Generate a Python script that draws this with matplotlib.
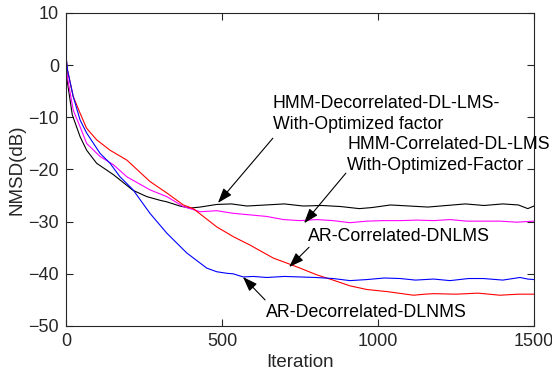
"""NMSD learning curves for the HMM / AR DL-LMS variants."""

import matplotlib

matplotlib.use("Agg")
import matplotlib.pyplot as plt

# values (iteration, NMSD in dB)
black_x = [0, 5, 20, 45, 66, 98, 152, 215, 259, 301, 323, 365, 397, 430, 483,
           530, 580, 640, 700, 760, 820, 880, 940, 980, 1040, 1100, 1160, 1220,
           1280, 1340, 1400, 1450, 1480, 1500]
black_y = [0.5, -3.5, -9.5, -13.7, -16.3, -18.8, -21.0, -24.0, -25.2, -25.9,
           -26.2, -27.0, -27.4, -27.2, -26.7, -26.6, -27.0, -26.8, -26.6, -27.0,
           -26.9, -27.1, -27.5, -27.3, -26.8, -27.0, -27.2, -26.9, -26.6, -26.9,
           -26.6, -26.8, -27.5, -27.0]

magenta_x = [0, 5, 23, 45, 66, 109, 152, 195, 269, 323, 376, 430, 483, 536,
             590, 643, 697, 750, 804, 856, 910, 964, 1017, 1071, 1124, 1178,
             1231, 1285, 1338, 1391, 1445, 1500]
magenta_y = [0.5, -2.5, -8.6, -11.8, -15.0, -17.5, -19.1, -21.4, -23.9, -25.2,
             -27.1, -28.1, -27.9, -28.4, -28.7, -29.0, -29.6, -29.8, -29.6,
             -29.8, -30.2, -29.9, -29.8, -29.8, -29.7, -29.8, -29.6, -29.9,
             -29.9, -29.9, -30.1, -29.9]

red_x = [0, 5, 23, 45, 66, 98, 141, 195, 215, 269, 323, 376, 408, 483, 537,
         590, 665, 697, 750, 804, 856, 910, 964, 1028, 1114, 1150, 1178, 1250,
         1320, 1391, 1450, 1500]
red_y = [1.5, -1.0, -6.0, -9.2, -12.1, -14.3, -16.3, -18.2, -19.3, -22.3,
         -24.5, -26.8, -27.5, -31.0, -32.9, -34.5, -37.0, -37.7, -38.9, -40.2,
         -41.2, -42.3, -43.0, -43.4, -44.1, -43.9, -43.8, -43.9, -43.7, -44.1,
         -43.9, -43.9]

blue_x = [0, 5, 23, 45, 66, 109, 141, 173, 215, 269, 323, 387, 451, 483, 516,
          536, 568, 600, 643, 700, 750, 800, 856, 910, 964, 1020, 1071, 1120,
          1178, 1231, 1290, 1338, 1400, 1455, 1480, 1500]
blue_y = [1.8, -1.0, -6.0, -10.5, -13.0, -16.9, -18.8, -21.4, -23.9, -28.4,
          -32.2, -36.0, -38.9, -39.6, -39.9, -40.0, -40.6, -40.5, -40.7, -40.5,
          -40.6, -40.7, -40.9, -41.3, -41.1, -40.8, -40.9, -41.2, -41.0, -41.3,
          -40.9, -40.9, -41.2, -40.7, -41.0, -41.1]

# label text, text anchor, arrow tail, arrow head (data coordinates)
labels = [
    ("HMM-Decorrelated-DL-LMS-\nWith-Optimized factor", (663, -9.4), (663, -14.0), (487, -26.4)),
    ("HMM-Correlated-DL-LMS\nWith-Optimized-Factor", (901, -17.2), (897, -20.7), (763, -30.3)),
    ("AR-Correlated-DNLMS", (776, -32.9), (779, -34.9), (715, -38.7)),
    ("AR-Decorrelated-DLNMS", (641, -47.5), (638, -45.0), (567, -40.6)),
]

plt.rcParams["font.family"] = ["Liberation Sans", "DejaVu Sans"]
axis_grey = "#262626"

fig = plt.figure(figsize=(5.52, 3.82), dpi=100)
ax = fig.add_axes([0.1196, 0.1466, 0.8478, 0.8194])

ax.plot(black_x, black_y, color="black", lw=0.8)
ax.plot(magenta_x, magenta_y, color="magenta", lw=0.8)
ax.plot(red_x, red_y, color="red", lw=0.8)
ax.plot(blue_x, blue_y, color="blue", lw=0.8)

for text, pos, tail, head in labels:
    ax.text(pos[0], pos[1], text, fontsize=12.8, va="center", ha="left",
            linespacing=1.28, color="black")
    ax.annotate(
        "", xy=head, xytext=tail,
        arrowprops=dict(arrowstyle="-|>,head_length=0.9,head_width=0.32",
                        color="black", lw=0.8, shrinkA=0, shrinkB=0),
    )

ax.set_xlim(0, 1500)
ax.set_ylim(-50, 10)
ax.set_xticks([0, 500, 1000, 1500])
ax.set_yticks(range(-50, 11, 10))
ax.tick_params(direction="in", length=5, width=0.8, top=True, right=True,
               labelsize=13, colors=axis_grey, pad=5)
for spine in ax.spines.values():
    spine.set_color(axis_grey)
    spine.set_linewidth(0.8)

ax.set_xlabel("Iteration", fontsize=13.5, color=axis_grey, labelpad=3)
ax.set_ylabel("NMSD(dB)", fontsize=13.5, color=axis_grey, labelpad=2)

fig.savefig("out.png", dpi=100)
